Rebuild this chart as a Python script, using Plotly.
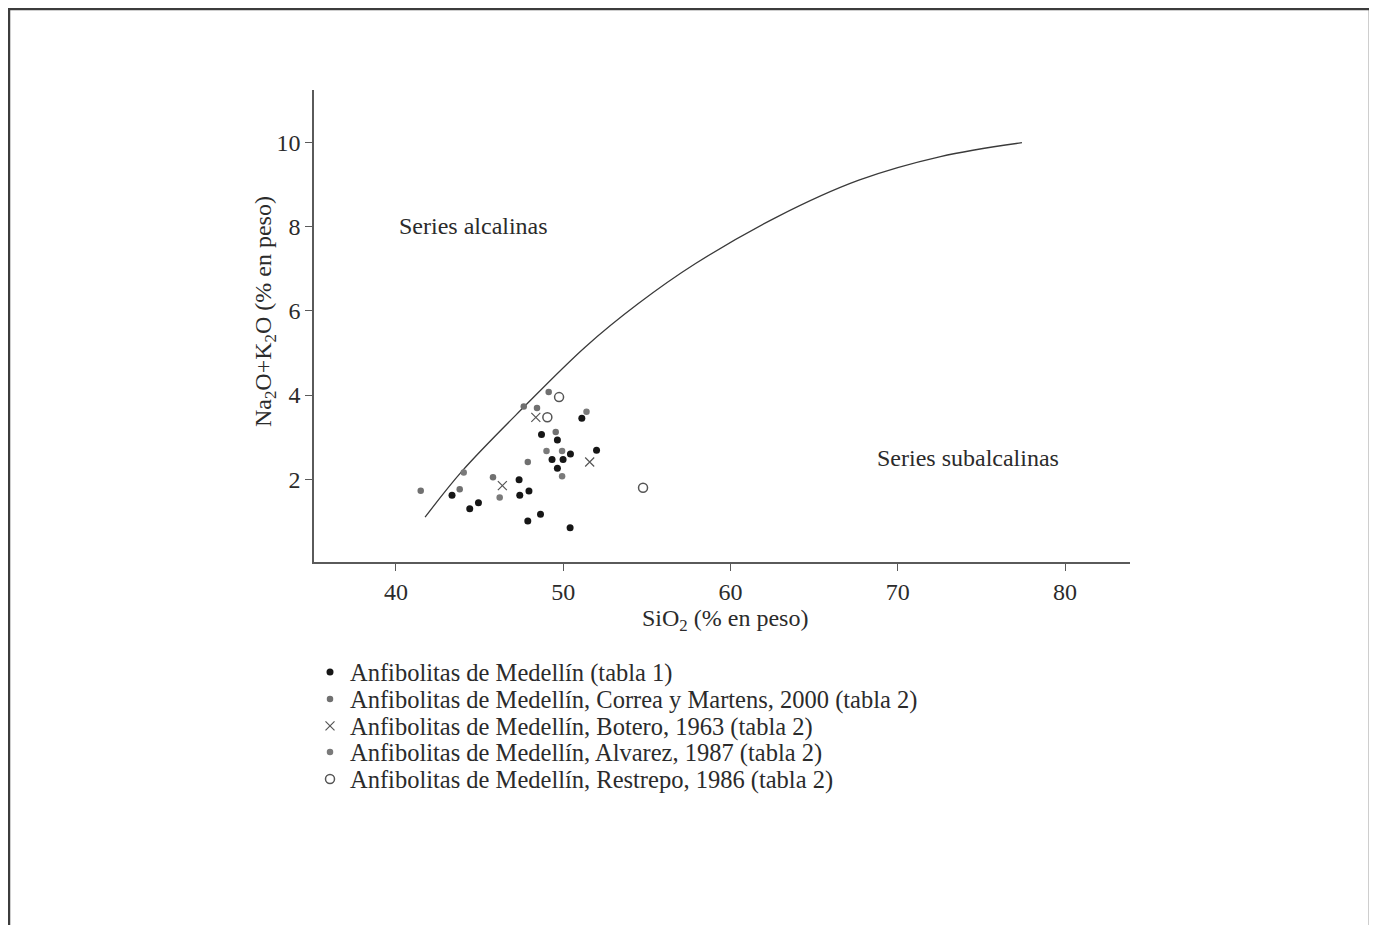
import plotly.graph_objects as go

# Irvine & Baragar boundary
boundary_sio2 = [41.74, 43.99, 47.66, 51.32, 54.49, 57.91, 62.79, 67.67, 72.55, 77.42]
boundary_alk = [1.10, 2.21, 3.72, 5.14, 6.17, 7.12, 8.23, 9.10, 9.66, 9.99]

# Anfibolitas de Medellín (tabla 1)
t1_sio2 = [43.35, 44.41, 44.93, 47.36, 47.40, 47.95, 48.64, 47.88, 50.41,
           48.70, 49.65, 50.43, 51.99, 49.33, 49.99, 49.65, 51.11]
t1_alk = [1.62, 1.30, 1.44, 1.99, 1.62, 1.72, 1.17, 1.01, 0.85,
          3.06, 2.93, 2.60, 2.69, 2.47, 2.47, 2.26, 3.45]

# Correa y Martens, 2000
cm_sio2 = [41.48, 43.81, 45.80, 47.64, 48.43, 49.13, 49.55, 47.88]
cm_alk = [1.73, 1.76, 2.05, 3.73, 3.69, 4.07, 3.12, 2.41]

# Botero, 1963
bo_sio2 = [46.36, 48.36, 51.58]
bo_alk = [1.85, 3.47, 2.41]

# Alvarez, 1987
al_sio2 = [44.05, 46.20, 51.39, 49.00, 49.93, 49.93]
al_alk = [2.16, 1.57, 3.60, 2.67, 2.67, 2.07]

# Restrepo, 1986
re_sio2 = [49.75, 49.05, 54.77]
re_alk = [3.95, 3.47, 1.80]

names = [
    "Anfibolitas de Medellín (tabla 1)",
    "Anfibolitas de Medellín, Correa y Martens, 2000 (tabla 2)",
    "Anfibolitas de Medellín, Botero, 1963 (tabla 2)",
    "Anfibolitas de Medellín, Alvarez, 1987 (tabla 2)",
    "Anfibolitas de Medellín, Restrepo, 1986 (tabla 2)",
]

x_ticks = [40, 50, 60, 70, 80]
y_ticks = [2, 4, 6, 8, 10]

FONT = "Liberation Serif, Times New Roman, serif"
TXT = "#2b2b2b"
OFF = 8  # page body margin

W, H = 1368, 917
L = 314 - OFF
T = 90 - OFF
R = W - (1130 - OFF)
B = H - (562 - OFF)
pw, ph = W - L - R, H - T - B


def px(xp):
    return (xp - OFF - L) / pw


def py(yp):
    return (H - B - (yp - OFF)) / ph


fig = go.Figure()
fig.add_trace(go.Scatter(x=boundary_sio2, y=boundary_alk, mode="lines",
                         line=dict(color="#3a3a3a", width=1.3, shape="spline", smoothing=1.0),
                         showlegend=False, hoverinfo="skip"))
fig.add_trace(go.Scatter(x=t1_sio2, y=t1_alk, mode="markers", name=names[0], legend="legend",
                         marker=dict(symbol="circle", size=7, color="#161616")))
fig.add_trace(go.Scatter(x=cm_sio2, y=cm_alk, mode="markers", name=names[1], legend="legend2",
                         marker=dict(symbol="circle", size=6.5, color="#707070")))
fig.add_trace(go.Scatter(x=bo_sio2, y=bo_alk, mode="markers", name=names[2], legend="legend3",
                         marker=dict(symbol="x-thin", size=9, color="#555555",
                                     line=dict(color="#555555", width=1.2))))
fig.add_trace(go.Scatter(x=al_sio2, y=al_alk, mode="markers", name=names[3], legend="legend4",
                         marker=dict(symbol="circle", size=6.5, color="#7a7a7a")))
fig.add_trace(go.Scatter(x=re_sio2, y=re_alk, mode="markers", name=names[4], legend="legend5",
                         marker=dict(symbol="circle-open", size=9, color="#555555",
                                     line=dict(color="#555555", width=1.5))))

legend_rows = [672, 699, 726, 752, 779]


def leg(row_y):
    return dict(x=px(310), y=py(row_y), xanchor="left", yanchor="middle",
                font=dict(family=FONT, size=24.5, color=TXT),
                bgcolor="rgba(0,0,0,0)", itemsizing="trace", borderwidth=0)


axis_common = dict(ticks="outside", ticklen=7, tickwidth=1.2, tickcolor="#5a5a5a",
                   showline=True, linecolor="#5a5a5a", linewidth=1.5, showgrid=False,
                   zeroline=False, tickfont=dict(family=FONT, size=24, color=TXT))

fig.update_layout(
    width=W, height=H,
    margin=dict(l=L, r=R, t=T, b=B, pad=0),
    paper_bgcolor="white", plot_bgcolor="white",
    font=dict(family=FONT, size=24, color=TXT),
    showlegend=True,
    legend=leg(legend_rows[0]),
    legend2=leg(legend_rows[1]),
    legend3=leg(legend_rows[2]),
    legend4=leg(legend_rows[3]),
    legend5=leg(legend_rows[4]),
    xaxis=dict(range=[35.1, 83.88], tickvals=x_ticks, **axis_common),
    yaxis=dict(range=[0.036, 11.24], tickvals=y_ticks, **axis_common),
    annotations=[
        dict(text="SiO<sub>2</sub> (% en peso)", xref="paper", yref="paper",
             x=px(725), y=py(620), showarrow=False, xanchor="center", yanchor="middle",
             font=dict(family=FONT, size=24, color=TXT)),
        dict(text="Na<sub>2</sub>O+K<sub>2</sub>O (% en peso)", xref="paper", yref="paper",
             x=px(265), y=py(312), showarrow=False, textangle=-90,
             xanchor="center", yanchor="middle", font=dict(family=FONT, size=24, color=TXT)),
        dict(text="Series alcalinas", x=44.65, y=8.01, xref="x", yref="y",
             showarrow=False, font=dict(family=FONT, size=24, color=TXT)),
        dict(text="Series subalcalinas", x=74.18, y=2.5, xref="x", yref="y",
             showarrow=False, font=dict(family=FONT, size=24, color=TXT)),
    ],
    shapes=[
        dict(type="rect", xref="paper", yref="paper", x0=px(9), x1=px(1370),
             y0=py(980), y1=py(9), line=dict(color="#3c3c3c", width=2.5),
             fillcolor="rgba(0,0,0,0)", layer="below"),
    ],
)

fig.write_html("out.html")
